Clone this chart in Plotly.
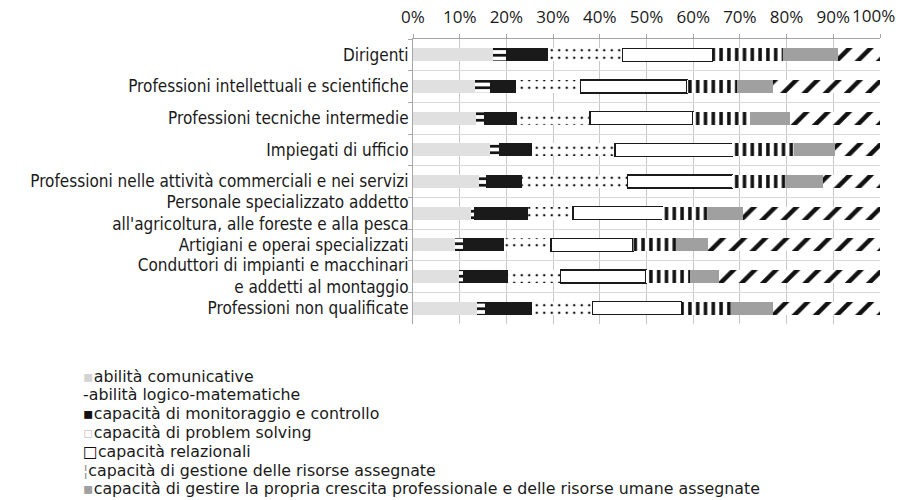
import plotly.graph_objects as go

# Occupational groups (top to bottom)
categories = [
    "Dirigenti",
    "Professioni intellettuali e scientifiche",
    "Professioni tecniche intermedie",
    "Impiegati di ufficio",
    "Professioni nelle attività commerciali e nei servizi",
    "Personale specializzato addetto<br>all'agricoltura, alle foreste e alla pesca",
    "Artigiani e operai specializzati",
    "Conduttori di impianti e macchinari<br>e addetti al montaggio",
    "Professioni non qualificate",
]

# Share of each competence (%) per group
abilita_comunicative = [17.1, 13.2, 13.4, 16.4, 14.1, 12.5, 8.9, 9.8, 13.7]
abilita_logico_matematiche = [2.8, 3.2, 1.7, 2.0, 1.5, 0.5, 1.8, 0.8, 1.7]
monitoraggio_controllo = [9.0, 5.7, 7.2, 7.0, 7.8, 11.6, 8.8, 9.8, 10.0]
problem_solving = [16.0, 13.8, 15.6, 17.8, 22.5, 9.7, 10.0, 11.2, 13.0]
relazionali = [19.2, 22.8, 22.1, 25.2, 22.5, 19.1, 17.6, 18.3, 19.1]
gestione_risorse = [15.2, 10.7, 12.1, 13.2, 11.5, 9.8, 9.3, 9.4, 10.7]
crescita_professionale = [11.8, 7.7, 8.6, 8.8, 7.8, 7.4, 6.8, 6.3, 8.9]
altre_competenze = [8.9, 22.9, 19.3, 9.6, 12.3, 29.4, 36.8, 34.4, 22.9]

tick_values = [0, 10, 20, 30, 40, 50, 60, 70, 80, 90, 100]
tick_labels = [f"{v}%" for v in tick_values]

INK = "#111111"


def hatch(shape, size, solidity):
    return dict(shape=shape, fgcolor=INK, bgcolor="white", fgopacity=1,
                size=size, solidity=solidity)


# name, values, marker, outline width, key swatch (glyph, colour)
series = [
    ("abilità comunicative", abilita_comunicative,
     dict(color="#e0e0e0"), 0, ("▪", "#d4d4d4")),
    ("abilità logico-matematiche", abilita_logico_matematiche,
     dict(color="white", pattern=hatch("-", 6.5, 0.42)), 0, ("-", INK)),
    ("capacità di monitoraggio e controllo", monitoraggio_controllo,
     dict(color="#1a1a1a"), 0, ("▪", INK)),
    ("capacità di problem solving", problem_solving,
     dict(color="white", pattern=hatch(".", 7.5, 0.09)), 0, ("▫", "#cfcfcf")),
    ("capacità relazionali", relazionali,
     dict(color="white"), 1.6, ("□", INK)),
    ("capacità di gestione delle risorse assegnate", gestione_risorse,
     dict(color="white", pattern=hatch("|", 7.8, 0.45)), 0, ("¦", "#9a9a9a")),
    ("capacità di gestire la propria crescita professionale e delle risorse umane assegnate",
     crescita_professionale, dict(color="#a0a0a0"), 0, ("▪", "#a0a0a0")),
    ("altre competenze", altre_competenze,
     dict(color="white", pattern=hatch("/", 15, 0.3)), 0, None),
]

fig = go.Figure()
for name, values, marker, lw, _ in series:
    m = dict(marker)
    m["line"] = dict(width=lw, color="#1a1a1a" if lw else "rgba(0,0,0,0)")
    fig.add_trace(go.Bar(
        y=categories, x=values, name=name, orientation="h",
        marker=m, showlegend=False,
    ))

FONT = "'Open Sans', Lato, sans-serif"
LABEL_FONT = "'DejaVu Sans Condensed', 'Open Sans', sans-serif"
KEY_FONT = "'DejaVu Sans', 'Open Sans', sans-serif"
TICK_SIZE = 17

# plot area in pixels
L, R, T, B = 413, 20, 39, 176
W, H = 900, 500
plot_w = W - L - R
plot_h = H - T - B


def paper_y(py):
    return (H - B - py) / plot_h


annotations = []

# the last percentage label is pulled in so it stays on the page
annotations.append(dict(
    xref="x", yref="paper", x=tick_values[-1], y=paper_y(16),
    xanchor="right", yanchor="middle", xshift=16, showarrow=False,
    borderpad=0,
    text=tick_labels[-1], font=dict(family=FONT, size=TICK_SIZE, color="#1a1a1a"),
))

# compact key below the chart, one line per competence
key_x = (82 - L) / plot_w
key_top, key_step = 376, 18.8
row = 0
for name, _, _, _, swatch in series:
    if swatch is None:
        continue
    glyph, colour = swatch
    annotations.append(dict(
        xref="paper", yref="paper",
        x=key_x, y=paper_y(key_top + row * key_step),
        xanchor="left", yanchor="middle", showarrow=False,
        text=f"<span style='color:{colour}'>{glyph}</span>{name}",
        font=dict(family=KEY_FONT, size=15.8, color="#1a1a1a"),
        borderpad=0,
    ))
    row += 1

fig.update_layout(
    width=W, height=H,
    barmode="stack", bargap=0.59,
    paper_bgcolor="white", plot_bgcolor="white",
    margin=dict(l=L, r=R, t=T, b=B, autoexpand=False),
    font=dict(family=FONT, size=17, color="#1a1a1a"),
    showlegend=False,
    annotations=annotations,
    xaxis=dict(
        side="top", range=[0, 100.001], automargin=False,
        tickvals=tick_values, ticktext=tick_labels[:-1] + [""],
        ticklabelstandoff=4,
        showgrid=True, gridcolor="#c8c8c8", gridwidth=1,
        showline=True, linecolor="#a6a6a6", linewidth=1,
        ticks="outside", ticklen=4, tickcolor="#a6a6a6",
        tickfont=dict(size=TICK_SIZE, color="#1a1a1a"), zeroline=False,
    ),
    yaxis=dict(
        autorange="reversed", type="category", tickson="boundaries",
        automargin=False,
        showgrid=True, gridcolor="#d9d9d9", gridwidth=1,
        showline=True, linecolor="#a6a6a6", linewidth=1,
        ticks="outside", ticklen=4, tickcolor="#a6a6a6",
        tickfont=dict(family=LABEL_FONT, size=17, color="#1a1a1a"),
    ),
)

fig.write_html("out.html")
